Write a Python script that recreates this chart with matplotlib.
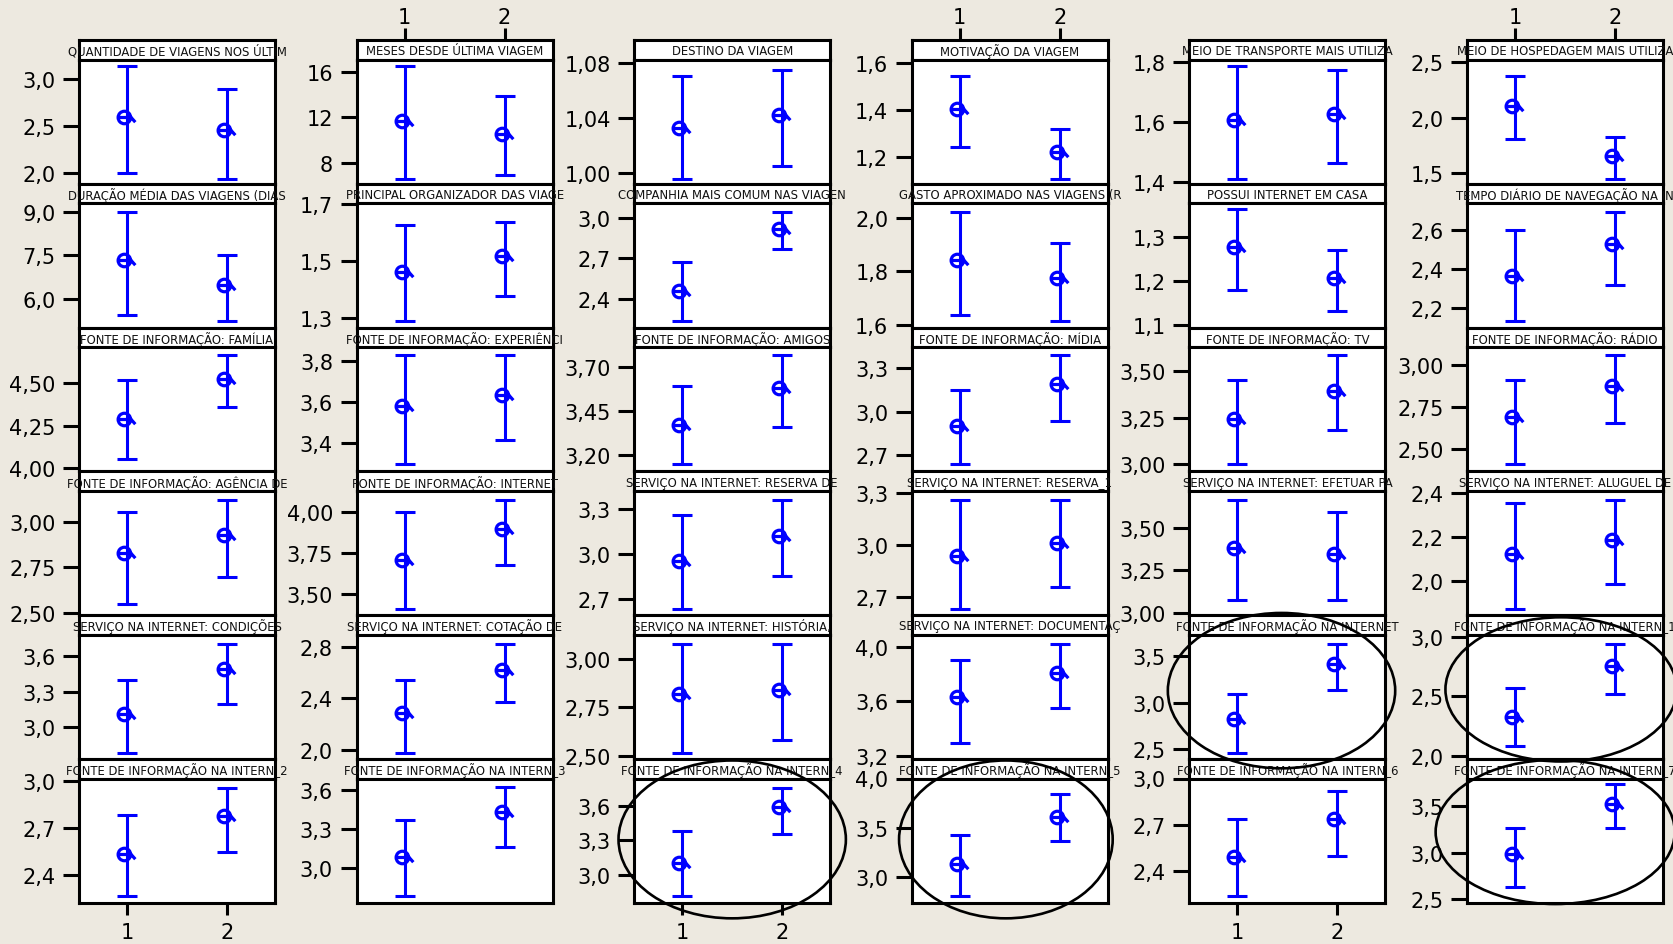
import matplotlib
matplotlib.use("Agg")
import matplotlib.pyplot as plt
from matplotlib.path import Path
from matplotlib.patches import Ellipse
from matplotlib import font_manager

# panel titles, row by row (6 x 6 grid)
titles = [
    "QUANTIDADE DE VIAGENS NOS ÚLTIM", "MESES DESDE ÚLTIMA VIAGEM", "DESTINO DA VIAGEM",
    "MOTIVAÇÃO DA VIAGEM", "MEIO DE TRANSPORTE MAIS UTILIZA", "MEIO DE HOSPEDAGEM MAIS UTILIZA",
    "DURAÇÃO MÉDIA DAS VIAGENS (DIAS", "PRINCIPAL ORGANIZADOR DAS VIAGE", "COMPANHIA MAIS COMUM NAS VIAGEN",
    "GASTO APROXIMADO NAS VIAGENS (R", "POSSUI INTERNET EM CASA", "TEMPO DIÁRIO DE NAVEGAÇÃO NA IN",
    "FONTE DE INFORMAÇÃO: FAMÍLIA", "FONTE DE INFORMAÇÃO: EXPERIÊNCI", "FONTE DE INFORMAÇÃO: AMIGOS",
    "FONTE DE INFORMAÇÃO: MÍDIA", "FONTE DE INFORMAÇÃO: TV", "FONTE DE INFORMAÇÃO: RÁDIO",
    "FONTE DE INFORMAÇÃO: AGÊNCIA DE", "FONTE DE INFORMAÇÃO: INTERNET", "SERVIÇO NA INTERNET: RESERVA DE",
    "SERVIÇO NA INTERNET: RESERVA_1", "SERVIÇO NA INTERNET: EFETUAR PA", "SERVIÇO NA INTERNET: ALUGUEL DE",
    "SERVIÇO NA INTERNET: CONDIÇÕES", "SERVIÇO NA INTERNET: COTAÇÃO DE", "SERVIÇO NA INTERNET: HISTÓRIA,",
    "SERVIÇO NA INTERNET: DOCUMENTAÇ", "FONTE DE INFORMAÇÃO NA INTERNET", "FONTE DE INFORMAÇÃO NA INTERN_1",
    "FONTE DE INFORMAÇÃO NA INTERN_2", "FONTE DE INFORMAÇÃO NA INTERN_3", "FONTE DE INFORMAÇÃO NA INTERN_4",
    "FONTE DE INFORMAÇÃO NA INTERN_5", "FONTE DE INFORMAÇÃO NA INTERN_6", "FONTE DE INFORMAÇÃO NA INTERN_7",
]

ytick_labels = [
    ["2,0", "2,5", "3,0"], ["8", "12", "16"], ["1,00", "1,04", "1,08"],
    ["1,2", "1,4", "1,6"], ["1,4", "1,6", "1,8"], ["1,5", "2,0", "2,5"],
    ["6,0", "7,5", "9,0"], ["1,3", "1,5", "1,7"], ["2,4", "2,7", "3,0"],
    ["1,6", "1,8", "2,0"], ["1,1", "1,2", "1,3"], ["2,2", "2,4", "2,6"],
    ["4,00", "4,25", "4,50"], ["3,4", "3,6", "3,8"], ["3,20", "3,45", "3,70"],
    ["2,7", "3,0", "3,3"], ["3,00", "3,25", "3,50"], ["2,50", "2,75", "3,00"],
    ["2,50", "2,75", "3,00"], ["3,50", "3,75", "4,00"], ["2,7", "3,0", "3,3"],
    ["2,7", "3,0", "3,3"], ["3,00", "3,25", "3,50"], ["2,0", "2,2", "2,4"],
    ["3,0", "3,3", "3,6"], ["2,0", "2,4", "2,8"], ["2,50", "2,75", "3,00"],
    ["3,2", "3,6", "4,0"], ["2,5", "3,0", "3,5"], ["2,0", "2,5", "3,0"],
    ["2,4", "2,7", "3,0"], ["3,0", "3,3", "3,6"], ["3,0", "3,3", "3,6"],
    ["3,0", "3,5", "4,0"], ["2,4", "2,7", "3,0"], ["2,5", "3,0", "3,5"],
]

ylims = [
    (1.883, 3.206), (6.18, 17.08), (0.992, 1.0822), (1.0888, 1.6127), (1.3944, 1.81), (1.40, 2.527),
    (5.004, 9.298), (1.266, 1.701), (2.185, 3.111), (1.589, 2.056), (1.093, 1.3765), (2.0996, 2.738),
    (3.980, 4.712), (3.259, 3.8705), (3.109, 3.813), (2.5905, 3.4414), (2.9625, 3.6286), (2.365, 3.105),
    (2.487, 3.1685), (3.367, 4.129), (2.591, 3.418), (2.5936, 3.3135), (2.986, 3.7157), (1.845, 2.4106),
    (2.737, 3.774), (1.9277, 2.8955), (2.483, 3.125), (3.1756, 4.09), (2.393, 3.732), (1.972, 3.0196),
    (2.219, 3.015), (2.731, 3.69), (2.7536, 3.838), (2.743, 3.99), (2.196, 2.998), (2.4645, 3.791),
]

# group 1: lower limit, mean, upper limit
low_1 = [2.000, 6.62, 0.9956, 1.242, 1.411, 1.806,
         5.45, 1.290, 2.235, 1.637, 1.179, 2.134,
         4.055, 3.293, 3.149, 2.638, 3.000, 2.407,
         2.551, 3.406, 2.633, 2.630, 3.075, 1.874,
         2.787, 1.974, 2.514, 3.290, 2.457, 2.078,
         2.262, 2.782, 2.812, 2.810, 2.239, 2.638]
mean_1 = [2.596, 11.65, 1.0322, 1.4056, 1.608, 2.106,
          7.351, 1.462, 2.457, 1.842, 1.276, 2.363,
          4.291, 3.579, 3.371, 2.904, 3.245, 2.687,
          2.827, 3.703, 2.951, 2.936, 3.383, 2.124,
          3.116, 2.284, 2.820, 3.632, 2.821, 2.327,
          2.534, 3.082, 3.099, 3.140, 2.494, 2.989]
high_1 = [3.135, 16.5, 1.0703, 1.5437, 1.7877, 2.379,
          9.00, 1.625, 2.670, 2.024, 1.363, 2.600,
          4.516, 3.830, 3.591, 3.149, 3.450, 2.907,
          3.051, 4.000, 3.256, 3.261, 3.663, 2.357,
          3.400, 2.542, 3.077, 3.907, 3.096, 2.570,
          2.779, 3.367, 3.381, 3.433, 2.741, 3.266]

# group 2: lower limit, mean, upper limit
low_2 = [1.936, 6.92, 1.0048, 1.110, 1.4637, 1.445,
         5.233, 1.376, 2.769, 1.614, 1.130, 2.320,
         4.358, 3.415, 3.361, 2.934, 3.182, 2.655,
         2.699, 3.672, 2.851, 2.756, 3.075, 1.985,
         3.198, 2.374, 2.580, 3.551, 3.132, 2.520,
         2.545, 3.164, 3.352, 3.373, 2.500, 3.266]
mean_2 = [2.454, 10.53, 1.0417, 1.2225, 1.628, 1.651,
          6.49, 1.517, 2.919, 1.774, 1.205, 2.529,
          4.525, 3.636, 3.581, 3.186, 3.393, 2.871,
          2.925, 3.898, 3.116, 3.014, 3.348, 2.185,
          3.484, 2.617, 2.837, 3.810, 3.418, 2.754,
          2.775, 3.431, 3.591, 3.610, 2.736, 3.518]
high_2 = [2.897, 13.9, 1.0749, 1.321, 1.7765, 1.827,
          7.50, 1.636, 3.047, 1.905, 1.270, 2.694,
          4.663, 3.830, 3.766, 3.384, 3.584, 3.056,
          3.119, 4.074, 3.358, 3.261, 3.590, 2.370,
          3.697, 2.823, 3.077, 4.022, 3.632, 2.941,
          2.957, 3.621, 3.759, 3.843, 2.919, 3.730]

groups = [1, 2]
group_labels = ["1", "2"]

# highlighted panels: (row, col, centre x, centre y, width, height) in axes fractions
highlights = [
    (5, 2, 0.50, 0.51, 1.16, 1.27),
    (5, 3, 0.48, 0.51, 1.09, 1.27),
    (4, 4, 0.47, 0.55, 1.16, 1.25),
    (4, 5, 0.48, 0.56, 1.18, 1.16),
    (5, 5, 0.45, 0.57, 1.22, 1.16),
]

W, H = 1674, 945
BG = "#EDE9E0"
BLUE = "#0000FF"

fig = plt.figure(figsize=(W / 100, H / 100), dpi=100, facecolor=BG)

try:
    font_manager.findfont("Liberation Sans Narrow", fallback_to_default=False)
    strip_font, strip_size = "Liberation Sans Narrow", 10
except ValueError:
    strip_font, strip_size = "DejaVu Sans", 8.4

# mean symbol: open circle on the bar with a crossbar and a small tail
circle = Path.circle((-3, 0), 6)
tail = Path([(-9, 0), (3.5, 0), (7.5, -4.5)], [Path.MOVETO, Path.LINETO, Path.LINETO])
mean_marker = Path.make_compound_path(circle, tail)

x0, pitch_x, pw = 79, 277.6, 196
y0, pitch_y, sh = 41, 143.8, 19.5
frame_lw = 2.2

panels = {}
for i in range(36):
    r, c = divmod(i, 6)
    left = x0 + c * pitch_x
    top = y0 + r * pitch_y

    ax_s = fig.add_axes([left / W, 1 - (top + sh) / H, pw / W, sh / H])
    ax = fig.add_axes([left / W, 1 - (top + pitch_y) / H, pw / W, (pitch_y - sh) / H])
    panels[(r, c)] = ax

    for a in (ax, ax_s):
        a.set_facecolor("white")
        a.set_xlim(0.52, 2.48)
        for sp in a.spines.values():
            sp.set_linewidth(frame_lw)
            sp.set_color("black")

    # title strip
    ax_s.set_yticks([])
    ax_s.text(0.5, 0.45, titles[i], transform=ax_s.transAxes, ha="center", va="center",
              fontsize=strip_size, family=strip_font, color="#111111", clip_on=False)
    if r == 0 and c % 2 == 1:
        ax_s.xaxis.set_ticks_position("top")
        ax_s.set_xticks(groups)
        ax_s.set_xticklabels(group_labels)
        ax_s.tick_params(axis="x", length=8.6, width=frame_lw, labelsize=15, pad=1)
    else:
        ax_s.set_xticks([])

    # interval plot
    yt = [float(s.replace(",", ".")) for s in ytick_labels[i]]
    ax.set_ylim(*ylims[i])
    ax.set_yticks(yt)
    ax.set_yticklabels(ytick_labels[i])
    ax.tick_params(axis="y", direction="out", length=11.5, width=frame_lw, labelsize=15, pad=5.5)
    if r == 5 and c % 2 == 0:
        ax.set_xticks(groups)
        ax.set_xticklabels(group_labels)
        ax.tick_params(axis="x", direction="out", length=8.6, width=frame_lw, labelsize=15, pad=5.5)
    else:
        ax.set_xticks([])

    means = [mean_1[i], mean_2[i]]
    lows = [low_1[i], low_2[i]]
    highs = [high_1[i], high_2[i]]
    yerr = [[m - lo for m, lo in zip(means, lows)], [hi - m for m, hi in zip(means, highs)]]
    ax.errorbar(groups, means, yerr=yerr, fmt="none", ecolor=BLUE,
                elinewidth=2.2, capsize=7.5, capthick=2.2, zorder=2)
    ax.plot(groups, means, linestyle="none", marker=mean_marker, markersize=13.5,
            markeredgecolor=BLUE, markerfacecolor="none", markeredgewidth=2.3, zorder=3)

for r, c, cx, cy, w, h in highlights:
    fig.add_artist(Ellipse((cx, cy), w, h, transform=panels[(r, c)].transAxes,
                           fill=False, edgecolor="black", linewidth=1.9, zorder=10))

fig.savefig("out.png", dpi=100, facecolor=BG)
